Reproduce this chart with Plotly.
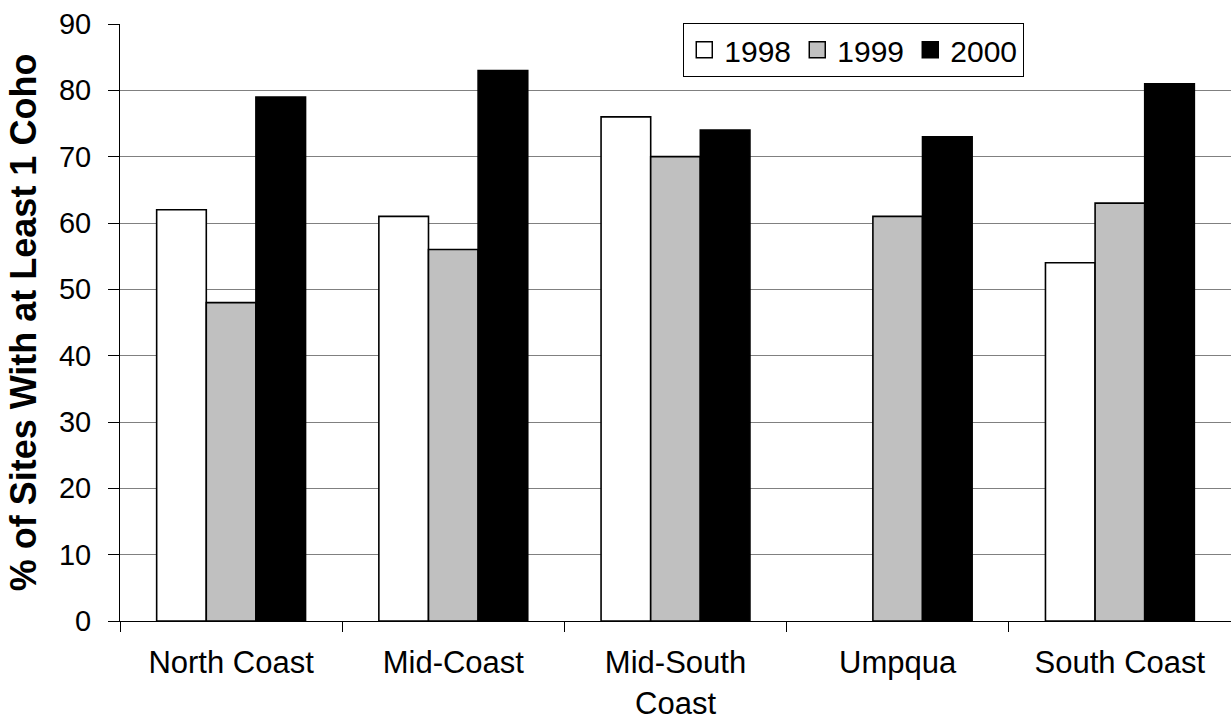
import plotly.graph_objects as go

categories = ["North Coast", "Mid-Coast", "Mid-South<br>Coast", "Umpqua", "South Coast"]
years = ["1998", "1999", "2000"]
v1998 = [62, 61, 76, None, 54]
v1999 = [48, 56, 70, 61, 63]
v2000 = [79, 83, 74, 73, 81]
y_ticks = [0, 10, 20, 30, 40, 50, 60, 70, 80, 90]

fills = ["#FFFFFF", "#C0C0C0", "#000000"]
series = [v1998, v1999, v2000]

fig = go.Figure()
for name, vals, col in zip(years, series, fills):
    fig.add_trace(go.Bar(
        x=categories, y=vals, name=name, showlegend=False,
        marker=dict(color=col, line=dict(color="#000000", width=1.6)),
    ))
# legend-only entries with larger square swatches
for name, col in zip(years, fills):
    fig.add_trace(go.Scatter(
        x=[None], y=[None], mode="markers", name=name,
        marker=dict(symbol="square", size=16, color=col, line=dict(color="#000000", width=1.5)),
    ))

FONT = "Liberation Sans, Arial, sans-serif"
fig.update_layout(
    width=1231, height=723,
    margin=dict(l=120, r=0, t=24, b=102),
    paper_bgcolor="white", plot_bgcolor="white",
    barmode="group", bargap=0.33, bargroupgap=0,
    font=dict(family=FONT, size=29, color="black"),
    showlegend=True,
    legend=dict(
        orientation="h", x=0.507, y=1.002, xanchor="left", yanchor="top",
        bordercolor="black", borderwidth=1, bgcolor="white",
        font=dict(size=30), itemwidth=30, traceorder="normal",
        tracegroupgap=0, entrywidth=68, entrywidthmode="pixels",
    ),
    xaxis=dict(
        showline=True, linecolor="#000000", linewidth=1,
        ticks="outside", ticklen=10, tickcolor="#000000", tickson="boundaries",
        tickfont=dict(size=31), showgrid=False, ticklabelstandoff=14, automargin=False,
    ),
    yaxis=dict(
        range=[0, 90], tickvals=y_ticks, showline=True, linecolor="#000000", linewidth=1,
        ticks="outside", ticklen=11, tickcolor="#000000",
        showgrid=True, gridcolor="#808080", gridwidth=1,
        tickfont=dict(size=29), zeroline=False, ticklabelstandoff=11,
        title=dict(text="<b>% of Sites With at Least 1 Coho</b>", font=dict(size=36), standoff=11),
    ),
)
fig.write_html("out.html")
